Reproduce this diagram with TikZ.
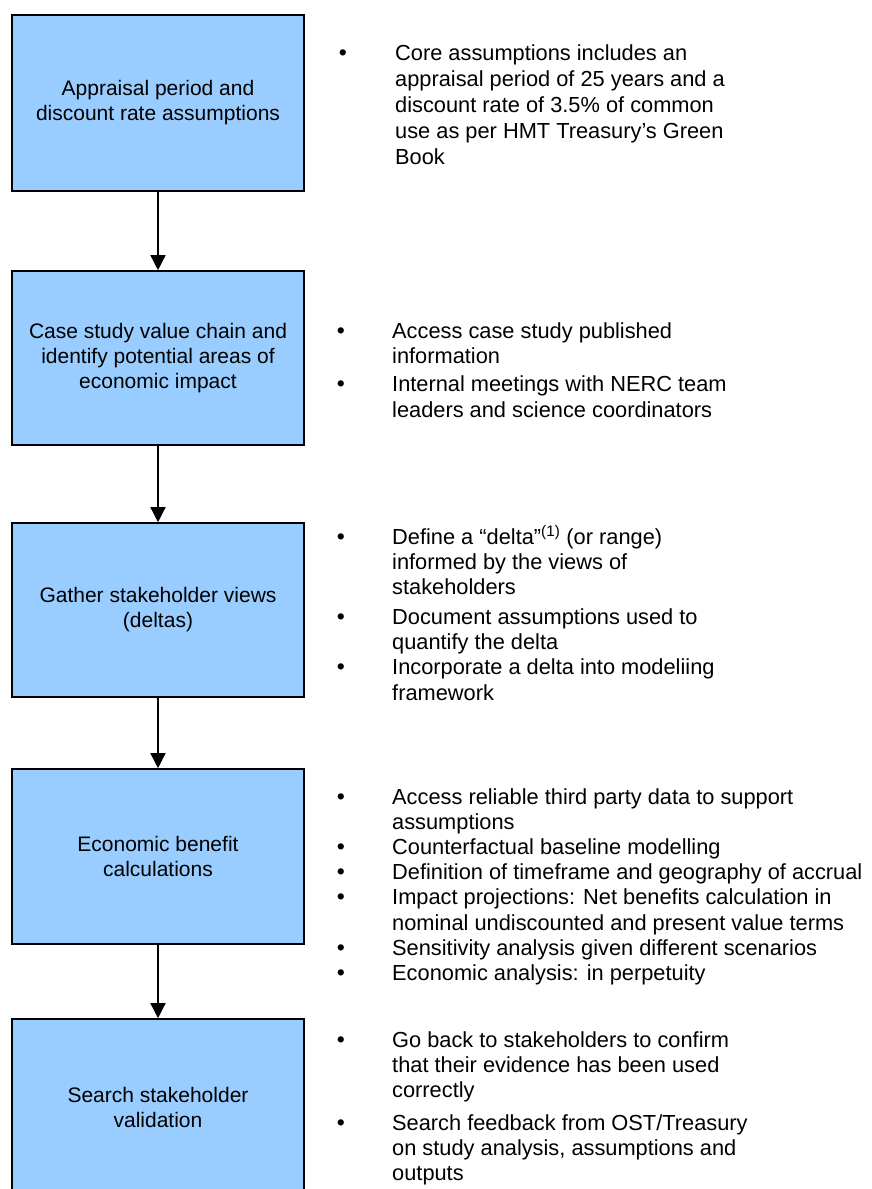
\documentclass[tikz,border=0pt]{standalone}
\usepackage{fontspec}
\setmainfont{Liberation Sans}
\usetikzlibrary{arrows.meta}
\definecolor{boxblue}{HTML}{99CCFF}
\begin{document}
\begin{tikzpicture}[x=1pt,y=-1pt,
  box/.style={draw=black, line width=1.6pt, fill=boxblue, minimum width=292pt,
    align=center, font=\fontsize{21}{25}\selectfont, inner sep=0pt},
  txt/.style={anchor=base west, inner sep=0pt, font=\fontsize{21.8}{26}\selectfont},
  bul/.style={anchor=base, inner sep=0pt, font=\fontsize{23}{26}\selectfont},
  arr/.style={line width=1.4pt, -{Triangle[width=15pt,length=15pt]}}]
\useasboundingbox (0,0) rectangle (871,1189);
\clip (0,0) rectangle (871,1189);

% boxes
\node[box, minimum height=176pt] (b1) at (158,103) {Appraisal period and\\discount rate assumptions};
\node[box, minimum height=174pt] (b2) at (158,358) {Case study value chain and\\identify potential areas of\\economic impact};
\node[box, minimum height=174pt] (b3) at (158,610) {Gather stakeholder views\\(deltas)};
\node[box, minimum height=175pt] (b4) at (158,856.5) {Economic benefit\\calculations};
\node[box, minimum height=176pt] (b5) at (158,1107) {Search stakeholder\\validation};

% connectors
\draw[arr] (b1.south) -- (b2.north);
\draw[arr] (b2.south) -- (b3.north);
\draw[arr] (b3.south) -- (b4.north);
\draw[arr] (b4.south) -- (b5.north);

% text beside box 1
\node[bul] (p1) at (343,60) {•};
\foreach \yy/\tx [count=\i] in {60/Core assumptions includes an,
  86/appraisal period of 25 years and a,
  112/discount rate of 3.5\% of common,
  138/use as per HMT Treasury’s Green,
  164/Book}
  \node[txt] (ta\i) at (395,\yy) {\tx};

% text beside box 2
\node[bul] (p2a) at (341,338) {•};
\node[bul] (p2b) at (341,391) {•};
\foreach \yy/\tx [count=\i] in {338/Access case study published,
  363/information,
  391/Internal meetings with NERC team,
  417/leaders and science coordinators}
  \node[txt] (tb\i) at (392,\yy) {\tx};

% text beside box 3
\node[bul] (p3a) at (341,544) {•};
\node[bul] (p3b) at (341,624) {•};
\node[bul] (p3c) at (341,674) {•};
\foreach \yy/\tx [count=\i] in {544/{Define a “delta”\textsuperscript{(1)} (or range)},
  569/informed by the views of,
  594/stakeholders,
  624/Document assumptions used to,
  649/quantify the delta,
  674/Incorporate a delta into modeliing,
  700/framework}
  \node[txt] (tc\i) at (392,\yy) {\tx};

% text beside box 4
\foreach \yy [count=\i] in {804,854,879,904,955,980}
  \node[bul] (p4\i) at (341,\yy) {•};
\foreach \yy/\tx [count=\i] in {804/Access reliable third party data to support,
  829/assumptions,
  854/Counterfactual baseline modelling,
  879/Definition of timeframe and geography of accrual,
  904/Impact projections: Net benefits calculation in,
  930/nominal undiscounted and present value terms,
  955/Sensitivity analysis given different scenarios,
  980/Economic analysis: in perpetuity}
  \node[txt] (td\i) at (392,\yy) {\tx};

% text beside box 5
\node[bul] (p5a) at (341,1047) {•};
\node[bul] (p5b) at (341,1130) {•};
\foreach \yy/\tx [count=\i] in {1047/Go back to stakeholders to confirm,
  1072/that their evidence has been used,
  1097/correctly,
  1130/{Search feedback from OST/Treasury},
  1155/{on study analysis, assumptions and},
  1180/outputs}
  \node[txt] (te\i) at (392,\yy) {\tx};
\end{tikzpicture}
\end{document}
